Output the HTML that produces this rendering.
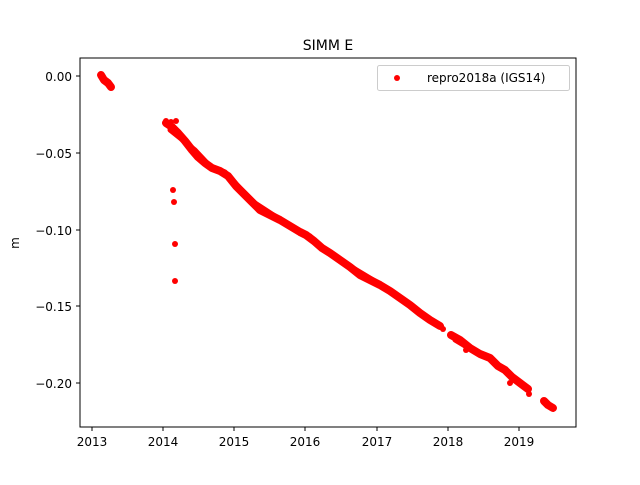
<!DOCTYPE html><html><head><style>body{margin:0;background:#fff}svg{font-family:"DejaVu Sans",sans-serif}</style></head><body>
<svg width="640" height="480" xmlns="http://www.w3.org/2000/svg">
<rect width="640" height="480" fill="#fff"/>
<g fill="none" stroke="#f00" stroke-width="8" stroke-linecap="round" stroke-linejoin="round">
<polyline points="101,75 104,80 108,83 111,87"/>
<polyline points="166,123 172,127 178,133 185,141 192,150 198,157 205,163 212,168 220,171 228,176 236,186 245,195 252,202 260,210 270,215 280,220 290,226 300,232 306,235 314,241 322,248 330,253 340,260 350,267 360,275 370,280 380,285 390,291 400,298 410,305 420,313 430,320 440,326"/>
<polyline points="451,335 460,340 470,348 480,354 490,358 498,366 505,370 512,377 520,383 528,389"/>
<polyline points="544,401 548,405 553,408"/>
</g>
<g fill="none" stroke="#f00" stroke-width="5" stroke-linecap="round" stroke-linejoin="round">
<polyline points="170,130 180,138 195,150 210,166 225,172 240,188 255,203 275,216 295,228 310,236 330,254 350,266 370,278 395,293 415,309 435,323"/>
<polyline points="455,340 475,352 495,362 515,381"/>
</g>
<g fill="#f00">
<circle cx="166" cy="121" r="3"/><circle cx="176" cy="121" r="3"/><circle cx="171" cy="122" r="3"/>
<circle cx="173" cy="190" r="3"/><circle cx="174" cy="202" r="3"/><circle cx="175" cy="244" r="3"/><circle cx="175" cy="281" r="3"/>
<circle cx="510" cy="383" r="3"/><circle cx="529" cy="394" r="3"/><circle cx="443" cy="329" r="3"/><circle cx="466" cy="350" r="3"/>
</g>
<rect x="80" y="58" width="496" height="369" fill="none" stroke="#000" stroke-width="1"/>
<g stroke="#000" stroke-width="1">
<line x1="92" y1="427" x2="92" y2="431"/><line x1="163" y1="427" x2="163" y2="431"/><line x1="234" y1="427" x2="234" y2="431"/><line x1="305" y1="427" x2="305" y2="431"/><line x1="377" y1="427" x2="377" y2="431"/><line x1="448" y1="427" x2="448" y2="431"/><line x1="519" y1="427" x2="519" y2="431"/>
<line x1="76" y1="76" x2="80" y2="76"/><line x1="76" y1="153" x2="80" y2="153"/><line x1="76" y1="230" x2="80" y2="230"/><line x1="76" y1="306" x2="80" y2="306"/><line x1="76" y1="383" x2="80" y2="383"/>
</g>
<g font-size="12" fill="#000" text-anchor="middle">
<text x="92" y="446">2013</text><text x="163" y="446">2014</text><text x="234" y="446">2015</text><text x="305" y="446">2016</text><text x="377" y="446">2017</text><text x="448" y="446">2018</text><text x="519" y="446">2019</text>
</g>
<g font-size="12" fill="#000" text-anchor="end">
<text x="72" y="81">0.00</text><text x="72" y="158">−0.05</text><text x="72" y="235">−0.10</text><text x="72" y="311">−0.15</text><text x="72" y="388">−0.20</text>
</g>
<text x="19" y="243" font-size="12" text-anchor="middle" transform="rotate(-90 19 243)">m</text>
<text x="328" y="50" font-size="14" text-anchor="middle">SIMM E</text>
<rect x="377.5" y="65.5" width="192" height="25" rx="2" fill="#fff" stroke="#ccc"/>
<circle cx="397" cy="78" r="3" fill="#f00"/>
<text x="427" y="82" font-size="12">repro2018a (IGS14)</text>
</svg></body></html>
